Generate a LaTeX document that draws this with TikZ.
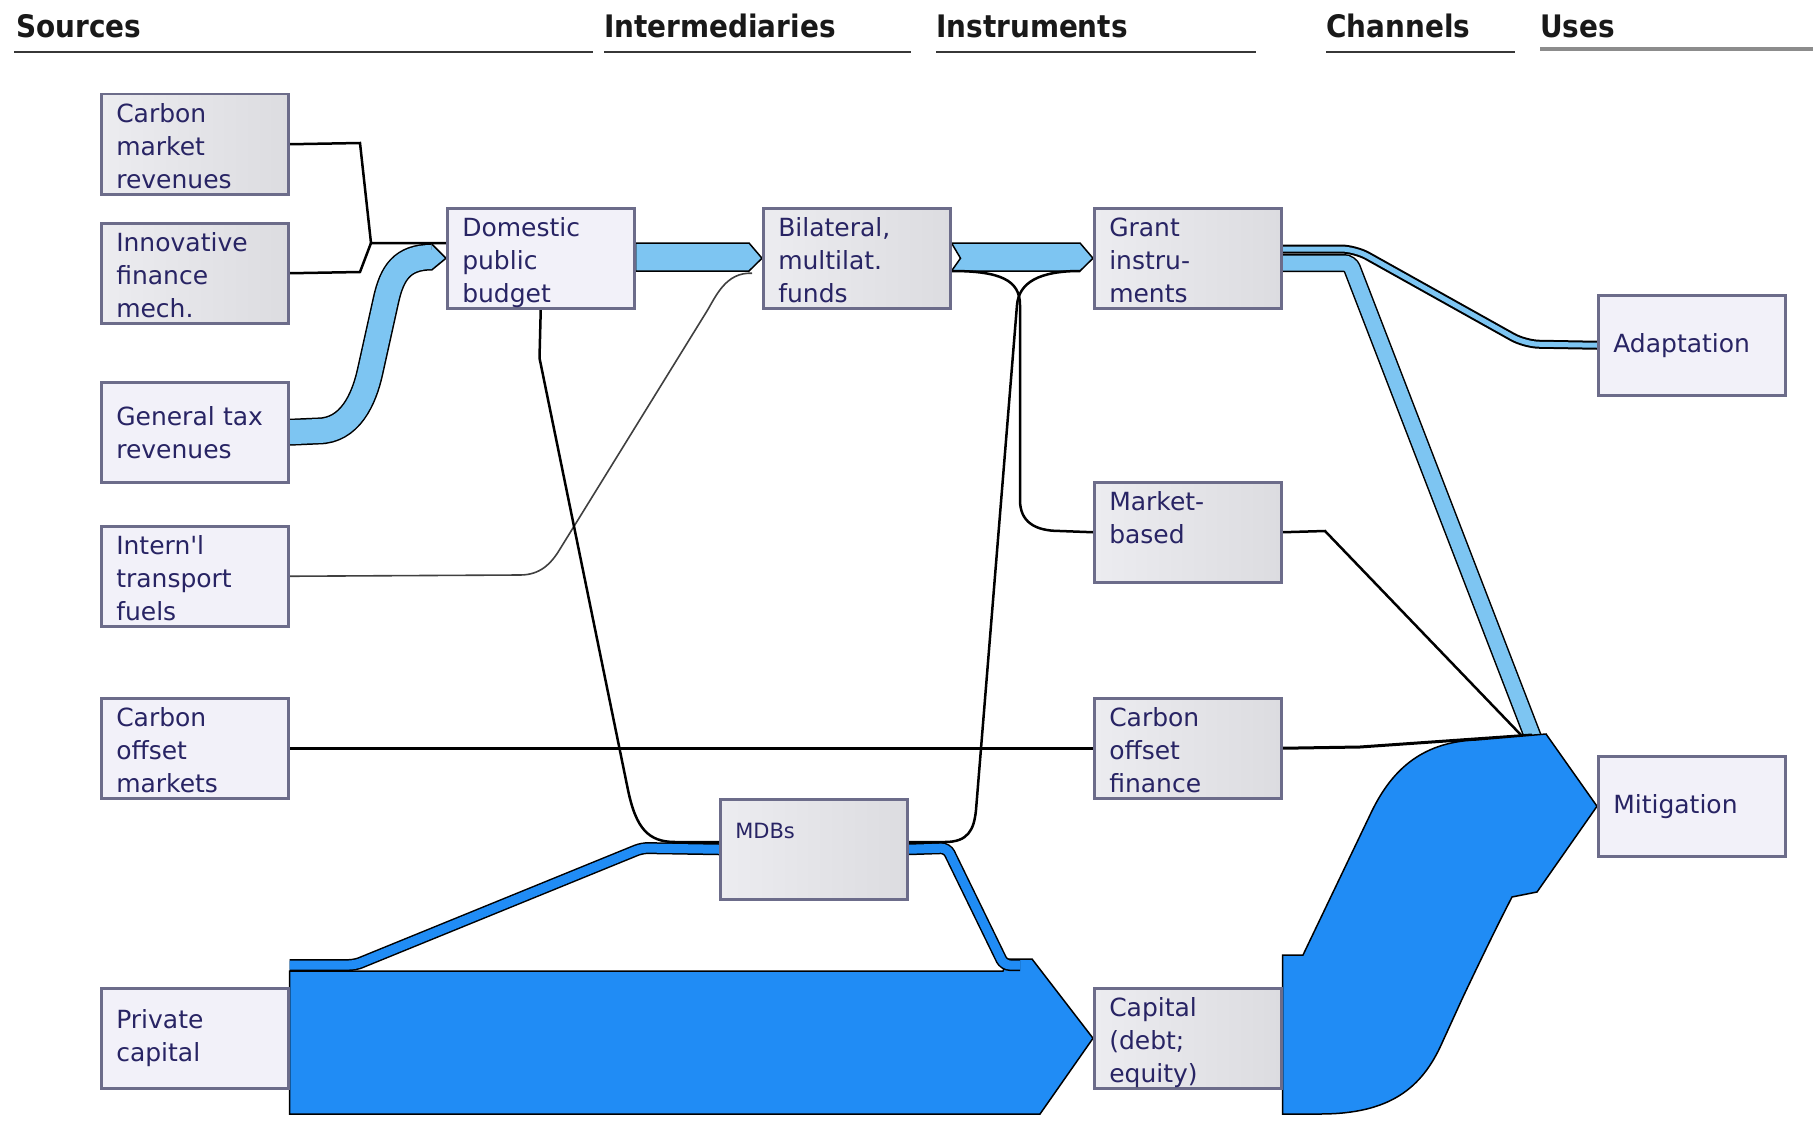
\documentclass[tikz,border=0pt]{standalone}
\usepackage{fontspec}
\newfontfamily\boxfont{DejaVu Sans}
\newfontfamily\headfont{DejaVu Sans}[FakeStretch=0.9]
\usetikzlibrary{calc}
\definecolor{lblue}{RGB}{125,197,242}
\definecolor{dblue}{RGB}{32,140,245}
\definecolor{bordc}{RGB}{108,108,138}
\definecolor{grayA}{RGB}{236,236,240}
\definecolor{grayB}{RGB}{220,220,224}
\definecolor{lightf}{RGB}{242,241,249}
\definecolor{txtc}{RGB}{40,36,100}
\definecolor{headc}{RGB}{25,25,25}
\definecolor{hlc}{RGB}{55,55,55}
\definecolor{usesc}{RGB}{140,140,140}
\pgfdeclarelayer{back}
\pgfdeclarelayer{flows}
\pgfsetlayers{back,flows,main}
\newcommand{\boxtxt}[1]{\parbox[c][100pt][t]{157pt}{\rule{0pt}{28.5pt}#1}}
\begin{document}
\begin{tikzpicture}[x=1pt,y=-1pt,
  box/.style={draw=bordc, line width=2.5pt, minimum width=187pt, minimum height=100pt,
    inner xsep=15pt, inner ysep=0pt, anchor=north west, text=txtc,
    font=\boxfont\fontsize{25}{33}\selectfont},
  gbox/.style={box, left color=grayA, right color=grayB},
  wbox/.style={box, fill=lightf},
  ctr/.style={align=left, text width=157pt},
  head/.style={font=\headfont\bfseries\fontsize{31}{36}\selectfont, text=headc, inner sep=0pt, anchor=base west},
  hline/.style={draw=hlc, line width=2.6pt},
  ln/.style={draw=black, line width=2.5pt},
  thinln/.style={draw=black!75, line width=1.6pt},
  lband/.style={draw=black, line width=1.5pt, double=lblue},
  dband/.style={draw=black, line width=1.5pt, double=dblue},
  lpoly/.style={fill=lblue, draw=black, line width=1.5pt},
  dpoly/.style={fill=dblue, draw=black, line width=1.5pt}]

\begin{pgfonlayer}{back}
\fill[white] (0,0) rectangle (1816,1124);
\end{pgfonlayer}
\useasboundingbox (0,0) rectangle (1816,1124);

% headings
\node[head] (hsrc) at (16,38) {Sources};
\node[head] (hint) at (604,38) {Intermediaries};
\node[head] (hins) at (936,38) {Instruments};
\node[head] (hcha) at (1326,38) {Channels};
\node[head] (huse) at (1540,38) {Uses};
\draw[hline] (14,52) -- (593,52);
\draw[hline] (604,52) -- (911,52);
\draw[hline] (936,52) -- (1256,52);
\draw[hline] (1326,52) -- (1515,52);
\draw[hline, draw=usesc, line width=3.5pt] (1540,49) -- (1813,49);

% sources
\node[gbox] (cmr) at (100,93) {\boxtxt{Carbon\\market\\revenues}};
\node[gbox] (ifm) at (100,222) {\boxtxt{Innovative\\finance\\mech.}};
\node[wbox, ctr] (gtr) at (100,381) {General tax\\revenues};
\node[wbox] (itf) at (100,525) {\boxtxt{Intern'l\\transport\\fuels}};
\node[wbox] (com) at (100,697) {\boxtxt{Carbon\\offset\\markets}};
\node[wbox, ctr] (pcap) at (100,987) {Private\\capital};
% intermediaries
\node[wbox] (dpb) at (446,207) {\boxtxt{Domestic\\public\\budget}};
\node[gbox] (bmf) at (762,207) {\boxtxt{Bilateral,\\multilat.\\funds}};
\node[gbox] (mdb) at (719,798) {\parbox[c][100pt][t]{157pt}{\fontsize{21}{25}\selectfont\rule{0pt}{39.5pt}MDBs}};
% instruments
\node[gbox] (gri) at (1093,207) {\boxtxt{Grant\\instru-\\ments}};
\node[gbox] (mkt) at (1093,481) {\boxtxt{Market-\\based}};
\node[gbox] (cof) at (1093,697) {\boxtxt{Carbon\\offset\\finance}};
\node[gbox] (cap) at (1093,987) {\boxtxt{Capital\\(debt;\\equity)}};
% uses
\node[wbox, ctr] (ada) at (1597,294) {Adaptation};
\node[wbox, ctr] (mit) at (1597,755) {Mitigation};

\begin{pgfonlayer}{flows}
% carbon market and innovative finance to domestic budget
\draw[ln] (cmr.east) -- (360,143) -- (371,243) -- (dpb.west |- 0,243);
\draw[ln] (ifm.east) -- (360,272) -- (371,243);
% general tax band
\draw[lband, double distance=24pt] (gtr.east) -- (318,431) .. controls (350,431) and (364,399) .. (370,372) -- (386,300) .. controls (392,273) and (402,257) .. (432,257);
\fill[lblue] (432,245) -- (dpb.west) -- (432,269) -- cycle;
\draw[black, line width=1.5pt] (432,244.25) -- (dpb.west) -- (432,269.75);
% domestic -> bilateral
\filldraw[lpoly] (dpb.east |- 0,243) -- (749,243) -- (bmf.west) -- (749,271) -- (dpb.east |- 0,271) -- cycle;
% bilateral -> grant
\filldraw[lpoly] (bmf.east |- 0,243) -- (1080,243) -- (gri.west) -- (1080,271) -- (bmf.east |- 0,271) -- ($(bmf.east)+(9,0)$) -- cycle;
% intern'l transport fuels -> bilateral
\draw[thinln] (itf.east) -- (520,575) .. controls (540,575) and (551,564) .. (560,549) -- (707,311) .. controls (716,296) and (726,272) .. ($(bmf.west)+(-10,15)$);
% domestic -> MDBs
\draw[ln] (dpb.south) -- (539.5,358) -- (628,790) .. controls (636,828) and (648,842) .. (675,842) -- (mdb.west |- 0,842);
% bilateral -> market-based
\draw[ln] (bmf.east |- 0,271) .. controls (1000,271) and (1020,280) .. (1020,305) -- (1020,500) .. controls (1020,522) and (1035,531) .. (1060,531) -- (mkt.west);
% MDBs -> grant
\draw[ln] (mdb.east |- 0,842) -- (945,842) .. controls (968,842) and (974,830) .. (976,810) -- (1017,305) .. controls (1019,282) and (1040,271) .. (1080,271);
% carbon offset markets -> carbon offset finance
\draw[ln, line width=3pt] (com.east) -- (cof.west);
% private capital -> capital
\filldraw[dpoly] (pcap.east |- 0,971) -- (1003,971) -- (1008,959) -- (1032,959) -- (cap.west) -- (1040,1114) -- (pcap.east |- 0,1114) -- cycle;
\draw[dband, double distance=9pt, rounded corners=6pt] (pcap.east |- 0,965) -- (355,965) -- (642,848) -- (mdb.west);
\draw[dband, double distance=9pt, rounded corners=6pt] (mdb.east) -- (947,848) -- (1004,965) -- (1020,965);
% grant -> mitigation / adaptation
\draw[lband, double distance=15pt, rounded corners=6pt] (gri.east |- 0,263) -- (1350,263) -- (1536,745);
\draw[lband, line width=2pt, double distance=5pt, rounded corners=14pt] (gri.east |- 0,249) -- (1355,249) -- (1525,344) -- (ada.west);
% market-based and carbon offset finance -> mitigation
\draw[ln] (mkt.east) -- (1325,531) -- (1521,735);
\draw[ln, line width=3pt] (cof.east) -- (1360,747) -- (1532,735);
% capital -> mitigation
\filldraw[dpoly] (cap.east |- 0,955) -- (1303,955) -- (1370,815) .. controls (1390,772) and (1420,742) .. (1476,740) -- (1546,734) -- (mit.west) -- (1537,892) -- (1512,897) .. controls (1497,926) and (1482,957) .. (1463,997) -- (1442,1043) .. controls (1422,1088) and (1390,1114) .. (1320,1114) -- (cap.east |- 0,1114) -- cycle;
\end{pgfonlayer}
\end{tikzpicture}
\end{document}
